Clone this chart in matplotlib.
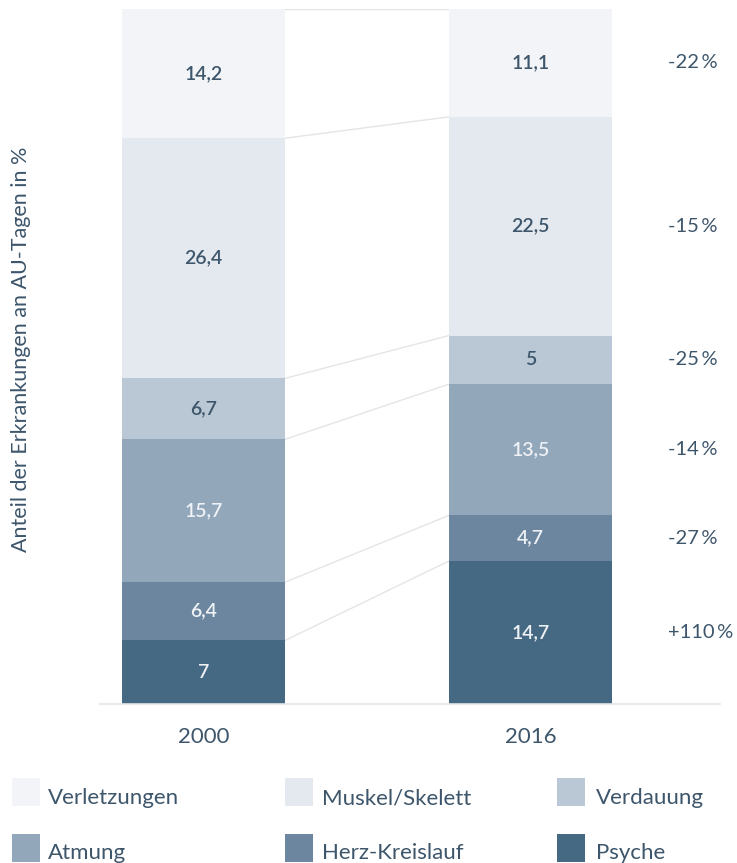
import matplotlib
matplotlib.use("Agg")
import matplotlib.pyplot as plt
from matplotlib.patches import Rectangle
import numpy as np

plt.rcParams['font.family'] = ['Lato', 'DejaVu Sans']

# ---- data ----
categories = ["Verletzungen", "Muskel/Skelett", "Verdauung", "Atmung", "Herz-Kreislauf", "Psyche"]
years = ["2000", "2016"]
values_2000 = [14.2, 26.4, 6.7, 15.7, 6.4, 7]
values_2016 = [11.1, 22.5, 5, 13.5, 4.7, 14.7]
value_labels_2000 = ["14,2", "26,4", "6,7", "15,7", "6,4", "7"]
value_labels_2016 = ["11,1", "22,5", "5", "13,5", "4,7", "14,7"]
changes = ["-22\u2009%", "-15\u2009%", "-25\u2009%", "-14\u2009%", "-27\u2009%", "+110\u2009%"]

colors = ["#f3f4f7", "#e4e9f0", "#bac8d5", "#93a7bb", "#6b869e", "#466983"]
label_colors = ["#3d566b", "#3d566b", "#3d566b", "#eef1f5", "#eef1f5", "#eef1f5"]
text_color = "#3d566b"

W, H = 737, 863
fig = plt.figure(figsize=(W / 100, H / 100), dpi=100)

# axes in pixel coords
ax_left, ax_right = 100, 737
ax_top, ax_bottom = 9, 704
ax = fig.add_axes([ax_left / W, 1 - ax_bottom / H, (ax_right - ax_left) / W, (ax_bottom - ax_top) / H])

bar_w = 0.5
x_pos = [0, 1]
ppu = 327.0
ax.set_xlim(-(203.5 - ax_left) / ppu, (ax_right - 203.5) / ppu)
ax.set_ylim(0, 100)

all_vals = [values_2000, values_2016]
all_labels = [value_labels_2000, value_labels_2016]
tops = []
centers_2016 = []
for xi, vals, labs in zip(x_pos, all_vals, all_labels):
    total = sum(vals)
    bottom = 0.0
    bounds = []
    cents = []
    for i in range(len(vals) - 1, -1, -1):
        h = vals[i] / total * 100
        ax.bar(xi, h, bottom=bottom, width=bar_w, color=colors[i], edgecolor='none', linewidth=0)
        c = bottom + h / 2
        ax.text(xi, c, labs[i], ha='center', va='center', fontsize=14,
                color=label_colors[i], fontweight='semibold')
        bottom += h
        bounds.append(bottom)
        cents.append((i, c))
    tops.append(bounds)
    if xi == 1:
        centers_2016 = cents

# connector lines
for b0, b1 in zip(tops[0], tops[1]):
    ax.plot([x_pos[0] + bar_w / 2, x_pos[1] - bar_w / 2], [b0, b1],
            color="#e3e5e8", linewidth=1.0, zorder=0.5)

# change labels (left aligned)
x_change = (668 - 203.5) / ppu
for i, c in centers_2016:
    ax.text(x_change, c, changes[i], ha='left', va='center', fontsize=14.5, color=text_color)

# baseline
ax.plot([ax.get_xlim()[0], 1.58], [0, 0], color="#e3e5e8", linewidth=1.2, clip_on=False)

for s in ax.spines.values():
    s.set_visible(False)
ax.set_xticks([])
ax.set_yticks([])

# year labels
for xi, y in zip(x_pos, years):
    ax.text(xi, -4.7, y, ha='center', va='center', fontsize=16, color=text_color)

# y label
fig.text(21 / W, 1 - 349 / H, "Anteil der Erkrankungen an AU-Tagen in %", rotation=90,
         ha='center', va='center', fontsize=15.5, color=text_color)

# legend
sq_x = [12, 285, 557]
txt_x = [48, 322, 596]
sq_y = [792, 848]
txt_y = [798, 853]
sq_w, sq_h = 28, 28
for k, cat in enumerate(categories):
    r, cidx = divmod(k, 3)
    fig.patches.append(Rectangle((sq_x[cidx] / W, 1 - (sq_y[r] + sq_h / 2) / H), sq_w / W, sq_h / H,
                                 transform=fig.transFigure, facecolor=colors[k], edgecolor='none'))
    fig.text(txt_x[cidx] / W, 1 - txt_y[r] / H, cat, ha='left', va='center', fontsize=16, color=text_color)

fig.savefig("out.png", dpi=100, facecolor='white')
